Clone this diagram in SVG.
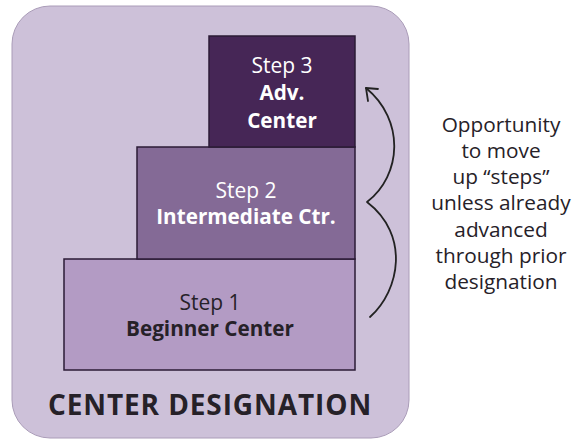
<svg xmlns="http://www.w3.org/2000/svg" width="574" height="440" viewBox="0 0 574 440">
<style>
.t{font-family:"Open Sans","Noto Sans","Liberation Sans",sans-serif;text-anchor:middle}
.lt{font-size:21px;font-weight:400}
.bd{font-size:20.7px;font-weight:700}
.nt{font-size:20.8px}
.w{fill:#ffffff}
.d{fill:#262128}
.box{stroke:#2b1b36;stroke-width:1.5}
.conn{fill:none;stroke:#222222;stroke-width:1.8;stroke-linecap:round;stroke-linejoin:round}
</style>
<rect width="574" height="440" fill="#ffffff"/>
<g id="panel">
<rect x="12" y="6" width="397" height="432" rx="38" ry="38" fill="#cdc1d9" stroke="#aa9cb8" stroke-width="1"/>
</g>
<g id="step1">
<rect class="box" x="64" y="259" width="291" height="111" fill="#b39bc4"/>
<text class="t lt d" x="210" y="310">Step 1</text>
<text class="t bd d" x="210" y="336">Beginner Center</text>
</g>
<g id="step2">
<rect class="box" x="137" y="147" width="218" height="112" fill="#846a96"/>
<text class="t lt w" x="246" y="198">Step 2</text>
<text class="t bd w" x="246" y="224">Intermediate Ctr.</text>
</g>
<g id="step3">
<rect class="box" x="209" y="36" width="146" height="111" fill="#462656"/>
<text class="t lt w" x="282" y="73">Step 3</text>
<text class="t bd w" x="282" y="100">Adv.</text>
<text class="t bd w" x="282" y="128">Center</text>
</g>
<g id="title">
<text class="t d" x="210" y="415" font-size="28" font-weight="700" letter-spacing="0.9">CENTER DESIGNATION</text>
</g>
<g id="connectors">
<path class="conn" d="M370,317 C400,290 410,235 367,202 C402,175 405,120 366,88"/>
<path class="conn" d="M378,89 L366,88 L368,101"/>
</g>
<g id="note">
<text class="t d nt" x="501" y="132">Opportunity</text>
<text class="t d nt" x="501" y="158">to move</text>
<text class="t d nt" x="501" y="184">up “steps”</text>
<text class="t d nt" x="501" y="210">unless already</text>
<text class="t d nt" x="501" y="237">advanced</text>
<text class="t d nt" x="501" y="263">through prior</text>
<text class="t d nt" x="501" y="289">designation</text>
</g>
</svg>
